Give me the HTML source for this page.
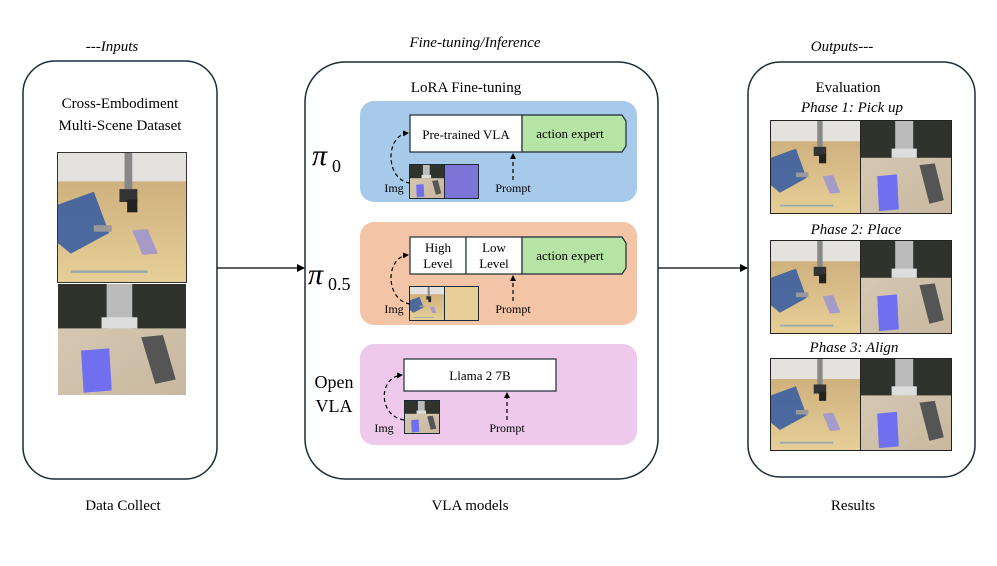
<!DOCTYPE html>
<html><head><meta charset="utf-8"><style>
body{margin:0;background:#fff}
svg text{font-family:"Liberation Serif",serif;fill:#000}
</style></head><body>
<svg width="997" height="561" viewBox="0 0 997 561" xmlns="http://www.w3.org/2000/svg">
<defs>
<linearGradient id="beige" x1="0" y1="0" x2="0" y2="1"><stop offset="0" stop-color="#c9a877"/><stop offset="1" stop-color="#e6cf97"/></linearGradient>
<linearGradient id="wood" x1="0" y1="0" x2="1" y2="1"><stop offset="0" stop-color="#d9cbb6"/><stop offset="1" stop-color="#c8b8a0"/></linearGradient>
<symbol id="ur" viewBox="0 0 100 100" preserveAspectRatio="none">
<rect width="100" height="100" fill="url(#beige)"/>
<rect width="100" height="22" fill="#e4e2de"/>
<polygon points="0,40 28,30 40,62 10,78 0,70" fill="#3b5fa0" opacity="0.9"/>
<rect x="28" y="56" width="14" height="5" fill="#999"/>
<line x1="10" y1="92" x2="70" y2="92" stroke="#9aa" stroke-width="2"/>
<polygon points="58,60 70,59 78,78 66,79" fill="#a69ac8"/>
<rect x="52" y="0" width="6" height="28" fill="#888"/>
<rect x="48" y="28" width="14" height="10" fill="#333"/>
<rect x="54" y="36" width="8" height="10" fill="#222"/>
</symbol>
<symbol id="kit" viewBox="0 0 100 100" preserveAspectRatio="none">
<rect width="100" height="100" fill="url(#wood)"/>
<rect width="100" height="40" fill="#2f332c"/>
<rect x="38" y="0" width="20" height="40" fill="#bbb"/>
<rect x="34" y="30" width="28" height="10" fill="#ddd"/>
<polygon points="18,60 40,58 42,96 20,98" fill="#6f6ff0"/>
<polygon points="65,48 82,46 92,86 76,90" fill="#555"/>
</symbol>
<marker id="ah" markerWidth="8" markerHeight="8" refX="7" refY="4" orient="auto" markerUnits="userSpaceOnUse"><path d="M0,0 L8,4 L0,8z" fill="#000"/></marker>
<marker id="ahs" markerWidth="6" markerHeight="6" refX="5" refY="3" orient="auto" markerUnits="userSpaceOnUse"><path d="M0,0 L6,3 L0,6z" fill="#000"/></marker>
</defs>

<text x="112" y="51" font-size="15" font-style="italic" text-anchor="middle">---Inputs</text>
<text x="475" y="47" font-size="15" font-style="italic" text-anchor="middle">Fine-tuning/Inference</text>
<text x="842" y="51" font-size="15" font-style="italic" text-anchor="middle">Outputs---</text>

<!-- left -->
<rect x="23" y="61" width="194" height="418" rx="32" fill="#fff" stroke="#1c2b36" stroke-width="1.5"/>
<text x="120" y="108" font-size="15" text-anchor="middle">Cross-Embodiment</text>
<text x="120" y="130" font-size="15" text-anchor="middle">Multi-Scene Dataset</text>
<rect x="57" y="152" width="130" height="131" fill="#333"/>
<use href="#ur" x="58" y="153" width="128" height="129"/>
<use href="#kit" x="58" y="284" width="128" height="111"/>
<text x="123" y="510" font-size="15" text-anchor="middle">Data Collect</text>

<line x1="217" y1="268" x2="304" y2="268" stroke="#000" stroke-width="1.2" marker-end="url(#ah)"/>
<line x1="658" y1="268" x2="747" y2="268" stroke="#000" stroke-width="1.2" marker-end="url(#ah)"/>

<!-- middle -->
<rect x="305" y="62" width="353" height="417" rx="40" fill="#fff" stroke="#1c2b36" stroke-width="1.5"/>
<text x="466" y="92" font-size="15" text-anchor="middle">LoRA Fine-tuning</text>

<rect x="360" y="101" width="277" height="101" rx="14" fill="#a7c9ea"/>
<rect x="360" y="222" width="277" height="103" rx="14" fill="#f4c4a6"/>
<rect x="360" y="344" width="277" height="101" rx="14" fill="#efc9ec"/>

<text x="312" y="165" font-size="30" font-family="DejaVu Sans" font-style="italic">π</text><text x="332" y="172" font-size="18" font-family="DejaVu Sans">0</text>
<text x="308" y="284" font-size="30" font-family="DejaVu Sans" font-style="italic">π</text><text x="328" y="290" font-size="18" font-family="DejaVu Sans">0.5</text>
<text x="334" y="388" font-size="18" font-family="Liberation Sans" text-anchor="middle">Open</text>
<text x="334" y="412" font-size="18" font-family="Liberation Sans" text-anchor="middle">VLA</text>

<!-- pi0 -->
<rect x="410" y="115" width="112" height="37" fill="#fff" stroke="#1c2b36" stroke-width="1.2"/>
<polygon points="522,115 622,115 626,121 626,146 622,152 522,152" fill="#b6e4a4" stroke="#1c2b36" stroke-width="1.2"/>
<text x="466" y="139" font-size="13" text-anchor="middle">Pre-trained VLA</text>
<text x="570" y="138" font-size="13" text-anchor="middle">action expert</text>
<rect x="409" y="164" width="70" height="35" fill="#1c2b36"/>
<use href="#kit" x="410" y="165" width="34" height="33"/>
<rect x="445" y="165" width="33" height="33" fill="#7d74d8"/>
<text x="394" y="192" font-size="12" text-anchor="middle">Img</text>
<text x="513" y="192" font-size="12" text-anchor="middle">Prompt</text>
<path d="M410,183 C385,180 385,135 408,133" fill="none" stroke="#000" stroke-dasharray="4,3" stroke-width="1.2" marker-end="url(#ahs)"/>
<line x1="513" y1="180" x2="513" y2="154" stroke="#000" stroke-dasharray="4,3" stroke-width="1.2" marker-end="url(#ahs)"/>

<!-- pi0.5 -->
<rect x="410" y="237" width="56" height="37" fill="#fff" stroke="#1c2b36" stroke-width="1.2"/>
<rect x="466" y="237" width="56" height="37" fill="#fff" stroke="#1c2b36" stroke-width="1.2"/>
<polygon points="522,237 622,237 626,243 626,268 622,274 522,274" fill="#b6e4a4" stroke="#1c2b36" stroke-width="1.2"/>
<text x="438" y="252" font-size="13" text-anchor="middle">High</text><text x="438" y="268" font-size="13" text-anchor="middle">Level</text>
<text x="494" y="252" font-size="13" text-anchor="middle">Low</text><text x="494" y="268" font-size="13" text-anchor="middle">Level</text>
<text x="570" y="260" font-size="13" text-anchor="middle">action expert</text>
<rect x="409" y="286" width="70" height="35" fill="#1c2b36"/>
<use href="#ur" x="410" y="287" width="34" height="33"/>
<rect x="445" y="287" width="33" height="33" fill="#e8cf97"/>
<text x="394" y="313" font-size="12" text-anchor="middle">Img</text>
<text x="513" y="313" font-size="12" text-anchor="middle">Prompt</text>
<path d="M410,304 C385,300 385,257 408,255" fill="none" stroke="#000" stroke-dasharray="4,3" stroke-width="1.2" marker-end="url(#ahs)"/>
<line x1="513" y1="301" x2="513" y2="276" stroke="#000" stroke-dasharray="4,3" stroke-width="1.2" marker-end="url(#ahs)"/>

<!-- openvla -->
<rect x="404" y="359" width="152" height="32" fill="#fff" stroke="#1c2b36" stroke-width="1.2"/>
<text x="480" y="380" font-size="13" text-anchor="middle">Llama 2 7B</text>
<rect x="404" y="400" width="36" height="34" fill="#1c2b36"/>
<use href="#kit" x="405" y="401" width="34" height="32"/>
<text x="384" y="432" font-size="12" text-anchor="middle">Img</text>
<text x="507" y="432" font-size="12" text-anchor="middle">Prompt</text>
<path d="M404,420 C378,416 378,377 402,375" fill="none" stroke="#000" stroke-dasharray="4,3" stroke-width="1.2" marker-end="url(#ahs)"/>
<line x1="507" y1="420" x2="507" y2="393" stroke="#000" stroke-dasharray="4,3" stroke-width="1.2" marker-end="url(#ahs)"/>

<text x="470" y="510" font-size="15" text-anchor="middle">VLA models</text>

<!-- right -->
<rect x="748" y="62" width="227" height="415" rx="32" fill="#fff" stroke="#1c2b36" stroke-width="1.5"/>
<text x="848" y="92" font-size="15" text-anchor="middle">Evaluation</text>
<text x="852" y="112" font-size="15" font-style="italic" text-anchor="middle">Phase 1: Pick up</text>
<rect x="770" y="120" width="182" height="94" fill="#222"/>
<use href="#ur" x="771" y="121" width="89" height="92"/>
<use href="#kit" x="861" y="121" width="90" height="92"/>
<text x="856" y="234" font-size="15" font-style="italic" text-anchor="middle">Phase 2: Place</text>
<rect x="770" y="240" width="182" height="94" fill="#222"/>
<use href="#ur" x="771" y="241" width="89" height="92"/>
<use href="#kit" x="861" y="241" width="90" height="92"/>
<text x="854" y="352" font-size="15" font-style="italic" text-anchor="middle">Phase 3: Align</text>
<rect x="770" y="358" width="182" height="93" fill="#222"/>
<use href="#ur" x="771" y="359" width="89" height="91"/>
<use href="#kit" x="861" y="359" width="90" height="91"/>
<text x="853" y="510" font-size="15" text-anchor="middle">Results</text>
</svg>
</body></html>
